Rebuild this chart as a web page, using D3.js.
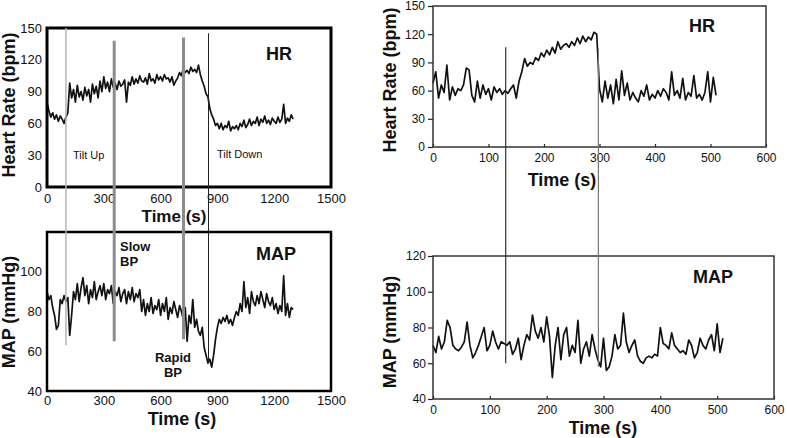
<!DOCTYPE html>
<html>
<head>
<meta charset="utf-8">
<script src="https://cdn.jsdelivr.net/npm/d3@7"></script>
<style>
body { margin: 0; background: #fff; }
svg { display: block; font-family: "Liberation Sans", Arial, sans-serif; }
.lbl { font-weight: bold; fill: #111; }
.note { fill: #111; }
</style>
</head>
<body>
<div id="chart"></div>
<script>
// tilt test, long recording (sampled every 10 s)
var longStep = 10;
var longHR = [
    80, 72, 66, 70, 64, 68, 62, 67, 64, 60, 66,
    70, 98, 84, 92, 80, 96, 85, 90, 82, 94,
    86, 92, 80, 97, 88, 95, 84, 100, 90, 104,
    93, 99, 90, 102, 94, 98, 92, 100, 95, 97,
    101, 80, 99, 96, 104, 97, 102, 98, 105, 100,
    99, 103, 97, 107, 100, 102, 98, 106, 101, 104,
    100, 106, 102, 103, 99, 104, 96, 100, 103, 108,
    105, 112, 108, 110, 107, 113, 109, 111, 108, 115,
    106, 100, 95, 88, 85, 74, 68, 64, 58, 60,
    55, 60, 54, 58, 56, 62, 53, 57, 55, 58,
    54, 60, 57, 63, 56, 59, 64, 58, 62, 60,
    66, 58, 64, 61, 67, 60, 63, 59, 65, 62,
    60, 66, 61, 64, 78, 60, 65, 62, 68, 64
];
var longMAP = [
    90, 86, 88, 82, 78, 71, 73, 86, 84, 88, 85,
    87, 68, 78, 90, 86, 94, 85, 92, 97, 88,
    93, 84, 91, 87, 95, 86, 90, 93, 88, 94,
    86, 91, 89, 93, 84, 90, 88, 92, 85, 89,
    91, 84, 90, 86, 92, 85, 89, 87, 91, 80,
    86, 78, 84, 80, 87, 79, 83, 81, 86, 78,
    84, 80, 87, 76, 82, 79, 85, 81, 77, 83,
    80, 76, 82, 65, 78, 74, 86, 72, 76, 70,
    68, 72, 62, 58, 54, 56, 52, 58, 66, 72,
    76, 74, 77, 75, 78, 74, 76, 73, 77, 80,
    78, 84, 80, 95, 82, 87, 79, 90, 85, 83,
    88, 84, 90, 86, 82, 89, 85, 83, 87, 81,
    84, 79, 83, 80, 98, 78, 84, 77, 82, 81
];

// short recording (sampled every 5 s)
var shortStep = 5;
var shortHR = [
    68, 80, 52, 66, 58, 87, 50, 64, 55, 62,
    60, 66, 84, 82, 55, 48, 70, 52, 66, 56,
    62, 50, 64, 58, 62, 56, 60, 57, 62, 66,
    52, 70, 80, 94, 86, 90, 88, 95, 92, 100,
    96, 103, 98, 106, 100, 112, 104, 108, 110, 106,
    112, 108, 116, 110, 118, 112, 117, 114, 122, 120,
    62, 48, 70, 52, 66, 46, 72, 50, 81, 55,
    68, 50, 58, 52, 48, 60, 54, 66, 50, 56,
    52, 60, 54, 62, 58, 50, 80, 55, 60, 52,
    73, 50, 58, 54, 76, 52, 56, 50, 58, 80,
    48, 74, 55
];
var shortMAP = [
    70, 66, 75, 68, 72, 84, 80, 70, 68, 67,
    69, 72, 83, 70, 63, 66, 70, 75, 80, 67,
    70, 78, 72, 68, 72, 71, 70, 72, 65, 68,
    74, 62, 70, 76, 73, 87, 78, 74, 80, 72,
    86, 75, 52, 70, 80, 62, 76, 80, 64, 70,
    66, 84, 60, 68, 72, 64, 76, 68, 62, 58,
    74, 56, 58, 64, 76, 68, 70, 88, 72, 66,
    70, 73, 64, 61, 60, 63, 64, 63, 65, 64,
    80, 71, 70, 68, 77, 70, 68, 66, 67, 65,
    73, 70, 63, 66, 74, 70, 68, 73, 76, 67,
    82, 66, 74
];

// event markers: time, HR value at top end, MAP value at bottom end
var longEvents = [
    {t: 100, hr: 150, map: 63},
    {t: 355, hr: 138, map: 65},
    {t: 721, hr: 141, map: 66},
    {t: 853, hr: 145, map: 54}
];
var shortEvents = [
    {t: 131, hr: 106, map: 60},
    {t: 298, hr: 105, map: 58}
];

var longTimeTicks = [0, 300, 600, 900, 1200, 1500];
var shortTimeTicks = [0, 100, 200, 300, 400, 500, 600];
var hrTicks = [0, 30, 60, 90, 120, 150];
var longMapTicks = [40, 60, 80, 100];
var shortMapTicks = [40, 60, 80, 100, 120];

var width = 787, height = 438;

var svg = d3.select('#chart')
    .append('svg')
    .attr('width', width)
    .attr('height', height);

function drawPanel(o) {
    var x = d3.scaleLinear().domain(o.xDomain).range([o.left, o.right]);
    var y = d3.scaleLinear().domain(o.yDomain).range([o.bottom, o.top]);
    var g = svg.append('g');

    var xa = g.append('g')
        .attr('transform', 'translate(0,' + o.bottom + ')')
        .call(d3.axisBottom(x)
            .tickValues(o.xTicks)
            .tickSizeInner(o.xTickSize)
            .tickSizeOuter(0)
            .tickPadding(o.xPad)
            .tickFormat(function(d) { return d }));
    var ya = g.append('g')
        .attr('transform', 'translate(' + o.left + ',0)')
        .call(d3.axisLeft(y)
            .tickValues(o.yTicks)
            .tickSizeInner(o.yTickSize)
            .tickSizeOuter(0)
            .tickPadding(o.yPad)
            .tickFormat(function(d) { return d }));

    [xa, ya].forEach(function(a) {
        a.select('.domain').remove();
        a.attr('font-size', o.fontSize)
            .attr('font-family', '"Liberation Sans", Arial, sans-serif');
        a.selectAll('.tick line').attr('stroke', '#222').attr('stroke-width', 1.2);
        a.selectAll('.tick text').attr('fill', '#111');
    });

    g.append('path')
        .datum(o.values)
        .attr('fill', 'none')
        .attr('stroke', '#111')
        .attr('stroke-width', 1.7)
        .attr('stroke-linejoin', 'round')
        .attr('d', d3.line()
            .x(function(d, i) { return x(i * o.step) })
            .y(function(d) { return y(d) }));

    g.append('rect')
        .attr('x', o.left)
        .attr('y', o.top)
        .attr('width', o.right - o.left)
        .attr('height', o.bottom - o.top)
        .attr('fill', 'none')
        .attr('stroke', o.frameColor)
        .attr('stroke-width', o.frameWidth);

    return {x: x, y: y, g: g};
}

var tl = drawPanel({
    left: 47, right: 331, top: 28, bottom: 187,
    xDomain: [0, 1500], yDomain: [0, 150],
    xTicks: longTimeTicks, yTicks: hrTicks,
    xTickSize: 0, yTickSize: 0, xPad: 7, yPad: 5,
    fontSize: 13, values: longHR, step: longStep,
    frameColor: '#000', frameWidth: 3
});
var bl = drawPanel({
    left: 47, right: 331, top: 232, bottom: 391,
    xDomain: [0, 1500], yDomain: [40, 120],
    xTicks: longTimeTicks, yTicks: longMapTicks,
    xTickSize: 0, yTickSize: 0, xPad: 5, yPad: 5,
    fontSize: 13, values: longMAP, step: longStep,
    frameColor: '#000', frameWidth: 2.5
});
var tr = drawPanel({
    left: 433, right: 766, top: 6, bottom: 147,
    xDomain: [0, 600], yDomain: [0, 150],
    xTicks: shortTimeTicks, yTicks: hrTicks,
    xTickSize: -3, yTickSize: 5, xPad: 6, yPad: 3,
    fontSize: 12, values: shortHR, step: shortStep,
    frameColor: '#333', frameWidth: 1.5
});
var br = drawPanel({
    left: 433, right: 774, top: 256, bottom: 399,
    xDomain: [0, 600], yDomain: [40, 120],
    xTicks: shortTimeTicks, yTicks: shortMapTicks,
    xTickSize: -3, yTickSize: 5, xPad: 6, yPad: 2,
    fontSize: 12, values: shortMAP, step: shortStep,
    frameColor: '#333', frameWidth: 1.5
});

// event lines crossing both panels
var longStyles = [['#b5b5b5', 1.5], ['#8c8c8c', 3], ['#8c8c8c', 3], ['#222', 1]];
svg.append('g').selectAll('line')
    .data(longEvents)
    .enter()
    .append('line')
    .attr('x1', function(d) { return tl.x(d.t) })
    .attr('x2', function(d) { return tl.x(d.t) })
    .attr('y1', function(d) { return tl.y(d.hr) })
    .attr('y2', function(d) { return bl.y(d.map) })
    .attr('stroke', function(d, i) { return longStyles[i][0] })
    .attr('stroke-width', function(d, i) { return longStyles[i][1] });

var shortStyles = [['#333', 1.2], ['#777', 1.2]];
svg.append('g').selectAll('line')
    .data(shortEvents)
    .enter()
    .append('line')
    .attr('x1', function(d) { return tr.x(d.t) })
    .attr('x2', function(d) { return tr.x(d.t) })
    .attr('y1', function(d) { return tr.y(d.hr) })
    .attr('y2', function(d) { return br.y(d.map) })
    .attr('stroke', function(d, i) { return shortStyles[i][0] })
    .attr('stroke-width', function(d, i) { return shortStyles[i][1] });

// text labels
function label(txt, x, y, size, opts) {
    opts = opts || {};
    var t = svg.append('text')
        .attr('class', opts.bold === false ? 'note' : 'lbl')
        .attr('x', x)
        .attr('y', y)
        .attr('font-size', size)
        .attr('text-anchor', opts.anchor || 'start')
        .text(txt);
    if (opts.rotate) t.attr('transform', 'rotate(-90,' + x + ',' + y + ')');
    return t;
}

label('HR', 266, 60, 18);
label('Tilt Up', 73, 159, 11, {bold: false});
label('Tilt Down', 217, 158, 11, {bold: false});
label('Heart Rate (bpm)', 15, 105, 18, {anchor: 'middle', rotate: true});
label('Time (s)', 174, 222, 17, {anchor: 'middle'});

label('MAP', 256, 260, 18);
label('Slow', 120, 251, 13);
label('BP', 120, 266, 13);
label('Rapid', 173, 362, 13, {anchor: 'middle'});
label('BP', 173, 377, 13, {anchor: 'middle'});
label('MAP (mmHg)', 15, 312, 18, {anchor: 'middle', rotate: true});
label('Time (s)', 182, 425, 18, {anchor: 'middle'});

label('HR', 689, 32, 18);
label('Heart Rate (bpm)', 396, 80, 18, {anchor: 'middle', rotate: true});
label('Time (s)', 562, 186, 18, {anchor: 'middle'});

label('MAP', 693, 283, 18);
label('MAP (mmHg)', 396, 332, 18, {anchor: 'middle', rotate: true});
label('Time (s)', 603, 434, 18, {anchor: 'middle'});
</script>
</body>
</html>
